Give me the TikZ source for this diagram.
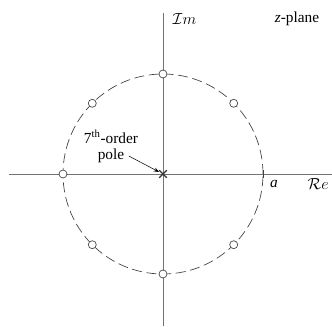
\documentclass[tikz,border=0pt]{standalone}
\usepackage{fontspec}
\setmainfont{Liberation Serif}
\usetikzlibrary{arrows.meta,shapes.misc,positioning}

\begin{document}
\begin{tikzpicture}[x=0.75pt,y=0.75pt,font=\fontsize{11.5}{12}\selectfont,
    eje/.style={draw=black!55, line width=0.7pt},
    cero/.style={circle, draw=black!75, fill=white, line width=0.5pt, inner sep=0pt, minimum size=6pt},
    polo/.style={cross out, draw=black!80, line width=0.8pt, inner sep=0pt, minimum size=5pt}]
    \useasboundingbox (-163,-152) rectangle (169,174);

    % Ejes coordenados
    \draw[eje] (-154,0) -- (169,0);
    \draw[eje] (0,-152) -- (0,161);

    % Circunferencia de radio a
    \draw[black!75, line width=0.5pt, dash pattern=on 7.5pt off 3.5pt] (0,0) circle[radius=75pt];
    \draw[black!75, line width=0.5pt] (100,-4) -- (100,4);

    % Polo de orden 7 en el origen
    \node[polo] (p) at (0,0) {};

    % Ceros sobre la circunferencia
    \foreach \ang in {45,90,...,315}
        \node[cero] (z\ang) at (\ang:100) {};

    % Etiquetas
    \node[anchor=west] (im) at (5,155) {$\mathcal{I}m$};
    \node (plano) at (134,155) {\textit{z}-plane};
    \node (a) at (111,-10) {\textit{a}};
    \node[anchor=west] (re) at (140,-10) {$\mathcal{R}e$};
    \node (orden) at (-52,37) {7\textsuperscript{th}-order};
    \node[below=-3pt of orden] (pole) {pole};
    \draw[-{Stealth[length=4pt,width=3pt]}, line width=0.4pt] (pole.east) -- (p);
\end{tikzpicture}
\end{document}
